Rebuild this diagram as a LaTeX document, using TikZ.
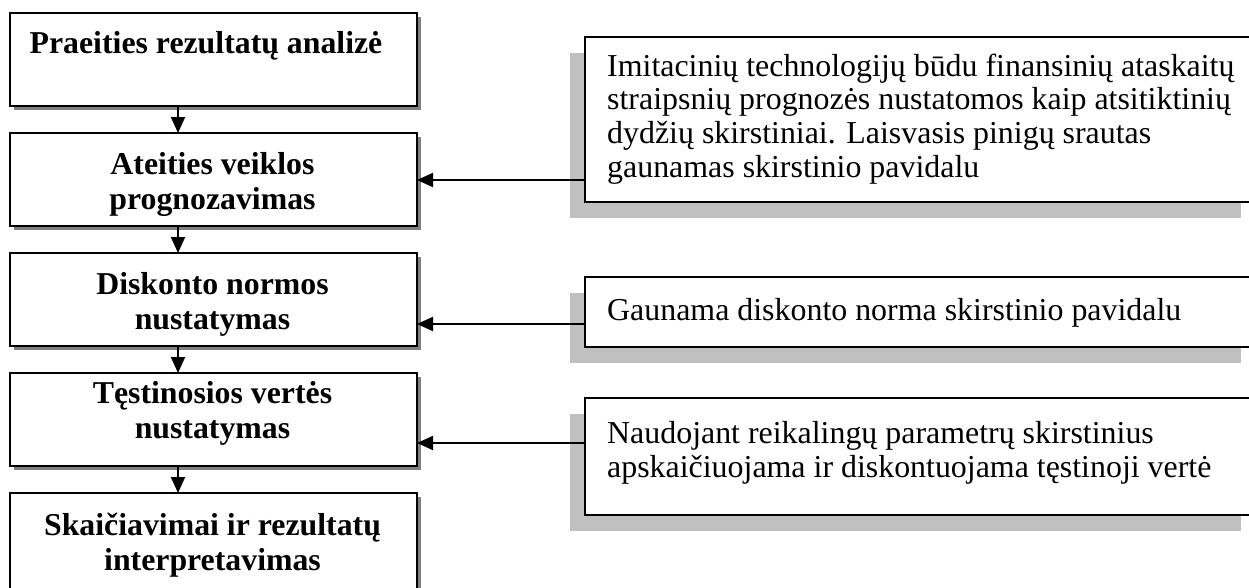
\documentclass[tikz,border=0pt]{standalone}
\usepackage{fontspec}
\setmainfont{Liberation Serif}
\usetikzlibrary{arrows.meta,shadows}
\definecolor{shd}{RGB}{128,128,128}
\definecolor{shl}{RGB}{192,192,192}
\begin{document}
\begin{tikzpicture}[x=1pt,y=-1pt,
  lbox/.style={draw=black, line width=2pt, fill=white, anchor=north west,
    minimum width=407pt, minimum height=93pt, inner sep=0pt, outer sep=0pt,
    drop shadow={shadow xshift=4pt, shadow yshift=-4pt, opacity=1, fill=shd}},
  rbox/.style={draw=black, line width=1.8pt, fill=white, anchor=north west,
    minimum width=671pt, inner sep=0pt, outer sep=0pt,
    drop shadow={shadow xshift=-15pt, shadow yshift=-16pt, opacity=1, fill=shl}},
  ltext/.style={anchor=base, align=center, inner sep=0pt,
    font=\bfseries\fontsize{31.8pt}{35pt}\selectfont},
  rtext/.style={anchor=base west, align=left, inner sep=0pt,
    font=\fontsize{31.9pt}{33.8pt}\selectfont},
  arr/.style={line width=2pt, -{Triangle[length=16pt, width=14pt]}}
]
\useasboundingbox (0,0) rectangle (1249,587);
\clip (0,0) rectangle (1249,587);

% left column boxes
\node[lbox] (b1) at (10,13) {};
\node[lbox] (b2) at (10,133) {};
\node[lbox] (b3) at (10,253) {};
\node[lbox] (b4) at (10,373) {};
\node[lbox, minimum height=120pt] (b5) at (10,493) {};

% right column boxes
\node[rbox, minimum height=165pt] (rA) at (585,37) {};
\node[rbox, minimum height=70pt] (rB) at (585,277) {};
\node[rbox, minimum height=117pt] (rC) at (585,398) {};

% left texts (anchor = baseline of the last line)
\node[ltext] (t1) at (206,53) {Praeities rezultatų analizė};
\node[ltext] (t2) at (212.5,209) {Ateities veiklos\\prognozavimas};
\node[ltext] (t3) at (212.5,329) {Diskonto normos\\nustatymas};
\node[ltext] (t4) at (212.5,438) {Tęstinosios vertės\\nustatymas};
\node[ltext] (t5) at (212.5,570) {Skaičiavimai ir rezultatų\\interpretavimas};

% right texts (anchor = baseline of the last line)
\node[rtext] (tA) at (607,177.5) {Imitacinių technologijų būdu finansinių ataskaitų\\straipsnių prognozės nustatomos kaip atsitiktinių\\dydžių skirstiniai. Laisvasis pinigų srautas\\gaunamas skirstinio pavidalu};
\node[rtext] (tB) at (607,320) {Gaunama diskonto norma skirstinio pavidalu};
\node[rtext] (tC) at (607,477) {Naudojant reikalingų parametrų skirstinius\\apskaičiuojama ir diskontuojama tęstinoji vertė};

% connectors
\coordinate (ax) at (178,0);
\coordinate (yA) at (0,180);
\coordinate (yB) at (0,324);
\coordinate (yC) at (0,443);
\draw[arr] (b1.south -| ax) -- (b2.north -| ax);
\draw[arr] (b2.south -| ax) -- (b3.north -| ax);
\draw[arr] (b3.south -| ax) -- (b4.north -| ax);
\draw[arr] (b4.south -| ax) -- (b5.north -| ax);
\draw[arr] (rA.west |- yA) -- (b2.east |- yA);
\draw[arr] (rB.west |- yB) -- (b3.east |- yB);
\draw[arr] (rC.west |- yC) -- (b4.east |- yC);
\end{tikzpicture}
\end{document}
